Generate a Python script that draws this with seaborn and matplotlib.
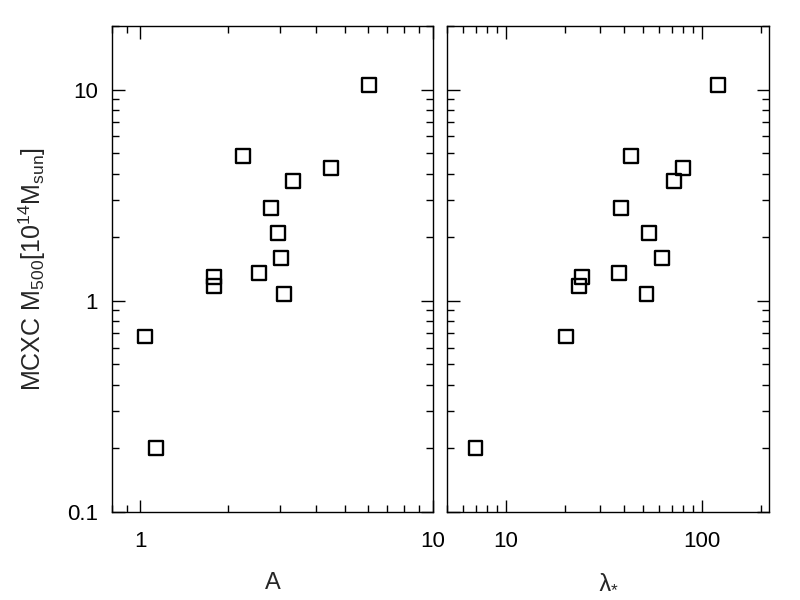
import matplotlib
matplotlib.use('Agg')
from matplotlib import pyplot as plt
from matplotlib.ticker import LogLocator, NullFormatter
import seaborn as sns
import pandas as pd

# values
mass = [10.5, 4.83, 4.24, 3.70, 2.76, 2.09, 1.60, 1.36, 1.29, 1.18, 1.08, 0.677, 0.20]
a_param = [6.07, 2.25, 4.50, 3.32, 2.80, 2.96, 3.03, 2.55, 1.79, 1.78, 3.09, 1.04, 1.13]
lam_star = [120.6, 43.5, 80.2, 72.2, 38.4, 53.6, 62.7, 37.5, 24.3, 23.5, 52.0, 20.3, 6.97]

y_ticks = [0.1, 1, 10]
y_ticklabels = ['0.1', '1', '10']
left_xticks = [1, 10]
left_xticklabels = ['1', '10']
right_xticks = [10, 100]
right_xticklabels = ['10', '100']

df = pd.DataFrame({'A': a_param, 'lam': lam_star, 'M500': mass})

sns.set_style('ticks')
plt.rcParams['font.family'] = ['Liberation Sans', 'DejaVu Sans']
plt.rcParams['mathtext.default'] = 'regular'

fig = plt.figure(figsize=(8, 6), dpi=100)
ax1 = fig.add_axes([0.14, 0.1467, 0.401, 0.81])
ax2 = fig.add_axes([0.559, 0.1467, 0.4025, 0.81])

for ax, col in [(ax1, 'A'), (ax2, 'lam')]:
    sns.scatterplot(data=df, x=col, y='M500', ax=ax, marker='s', s=100,
                    facecolors='none', edgecolor='black', linewidth=1.7)
    ax.set_xscale('log')
    ax.set_yscale('log')
    ax.set_ylim(0.1, 20)
    ax.set_yticks(y_ticks)
    ax.yaxis.set_minor_locator(LogLocator(base=10, subs=range(2, 10)))
    ax.xaxis.set_minor_locator(LogLocator(base=10, subs=range(2, 10)))
    ax.xaxis.set_minor_formatter(NullFormatter())
    ax.yaxis.set_minor_formatter(NullFormatter())
    ax.tick_params(which='both', direction='in', top=True, right=True,
                   width=1, colors='black', labelsize=16)
    ax.tick_params(which='major', length=9)
    ax.tick_params(which='minor', length=5)
    ax.tick_params(axis='x', which='major', pad=14)
    ax.tick_params(axis='y', which='major', pad=10)
    for sp in ax.spines.values():
        sp.set_linewidth(1)
        sp.set_color('black')

ax1.set_xlim(0.8, 10)
ax1.set_xticks(left_xticks, left_xticklabels)
ax1.set_yticklabels(y_ticklabels)
ax1.set_xlabel('A', fontsize=17, labelpad=14)
ax1.set_ylabel('MCXC M$_{500}$[10$^{14}$M$_{sun}$]', fontsize=18, labelpad=14)

ax2.set_xlim(5, 220)
ax2.set_xticks(right_xticks, right_xticklabels)
ax2.tick_params(axis='y', labelleft=False)
ax2.set_xlabel('λ$_{*}$', fontsize=18, labelpad=12)
ax2.set_ylabel('')

fig.savefig('out.png', dpi=100)
